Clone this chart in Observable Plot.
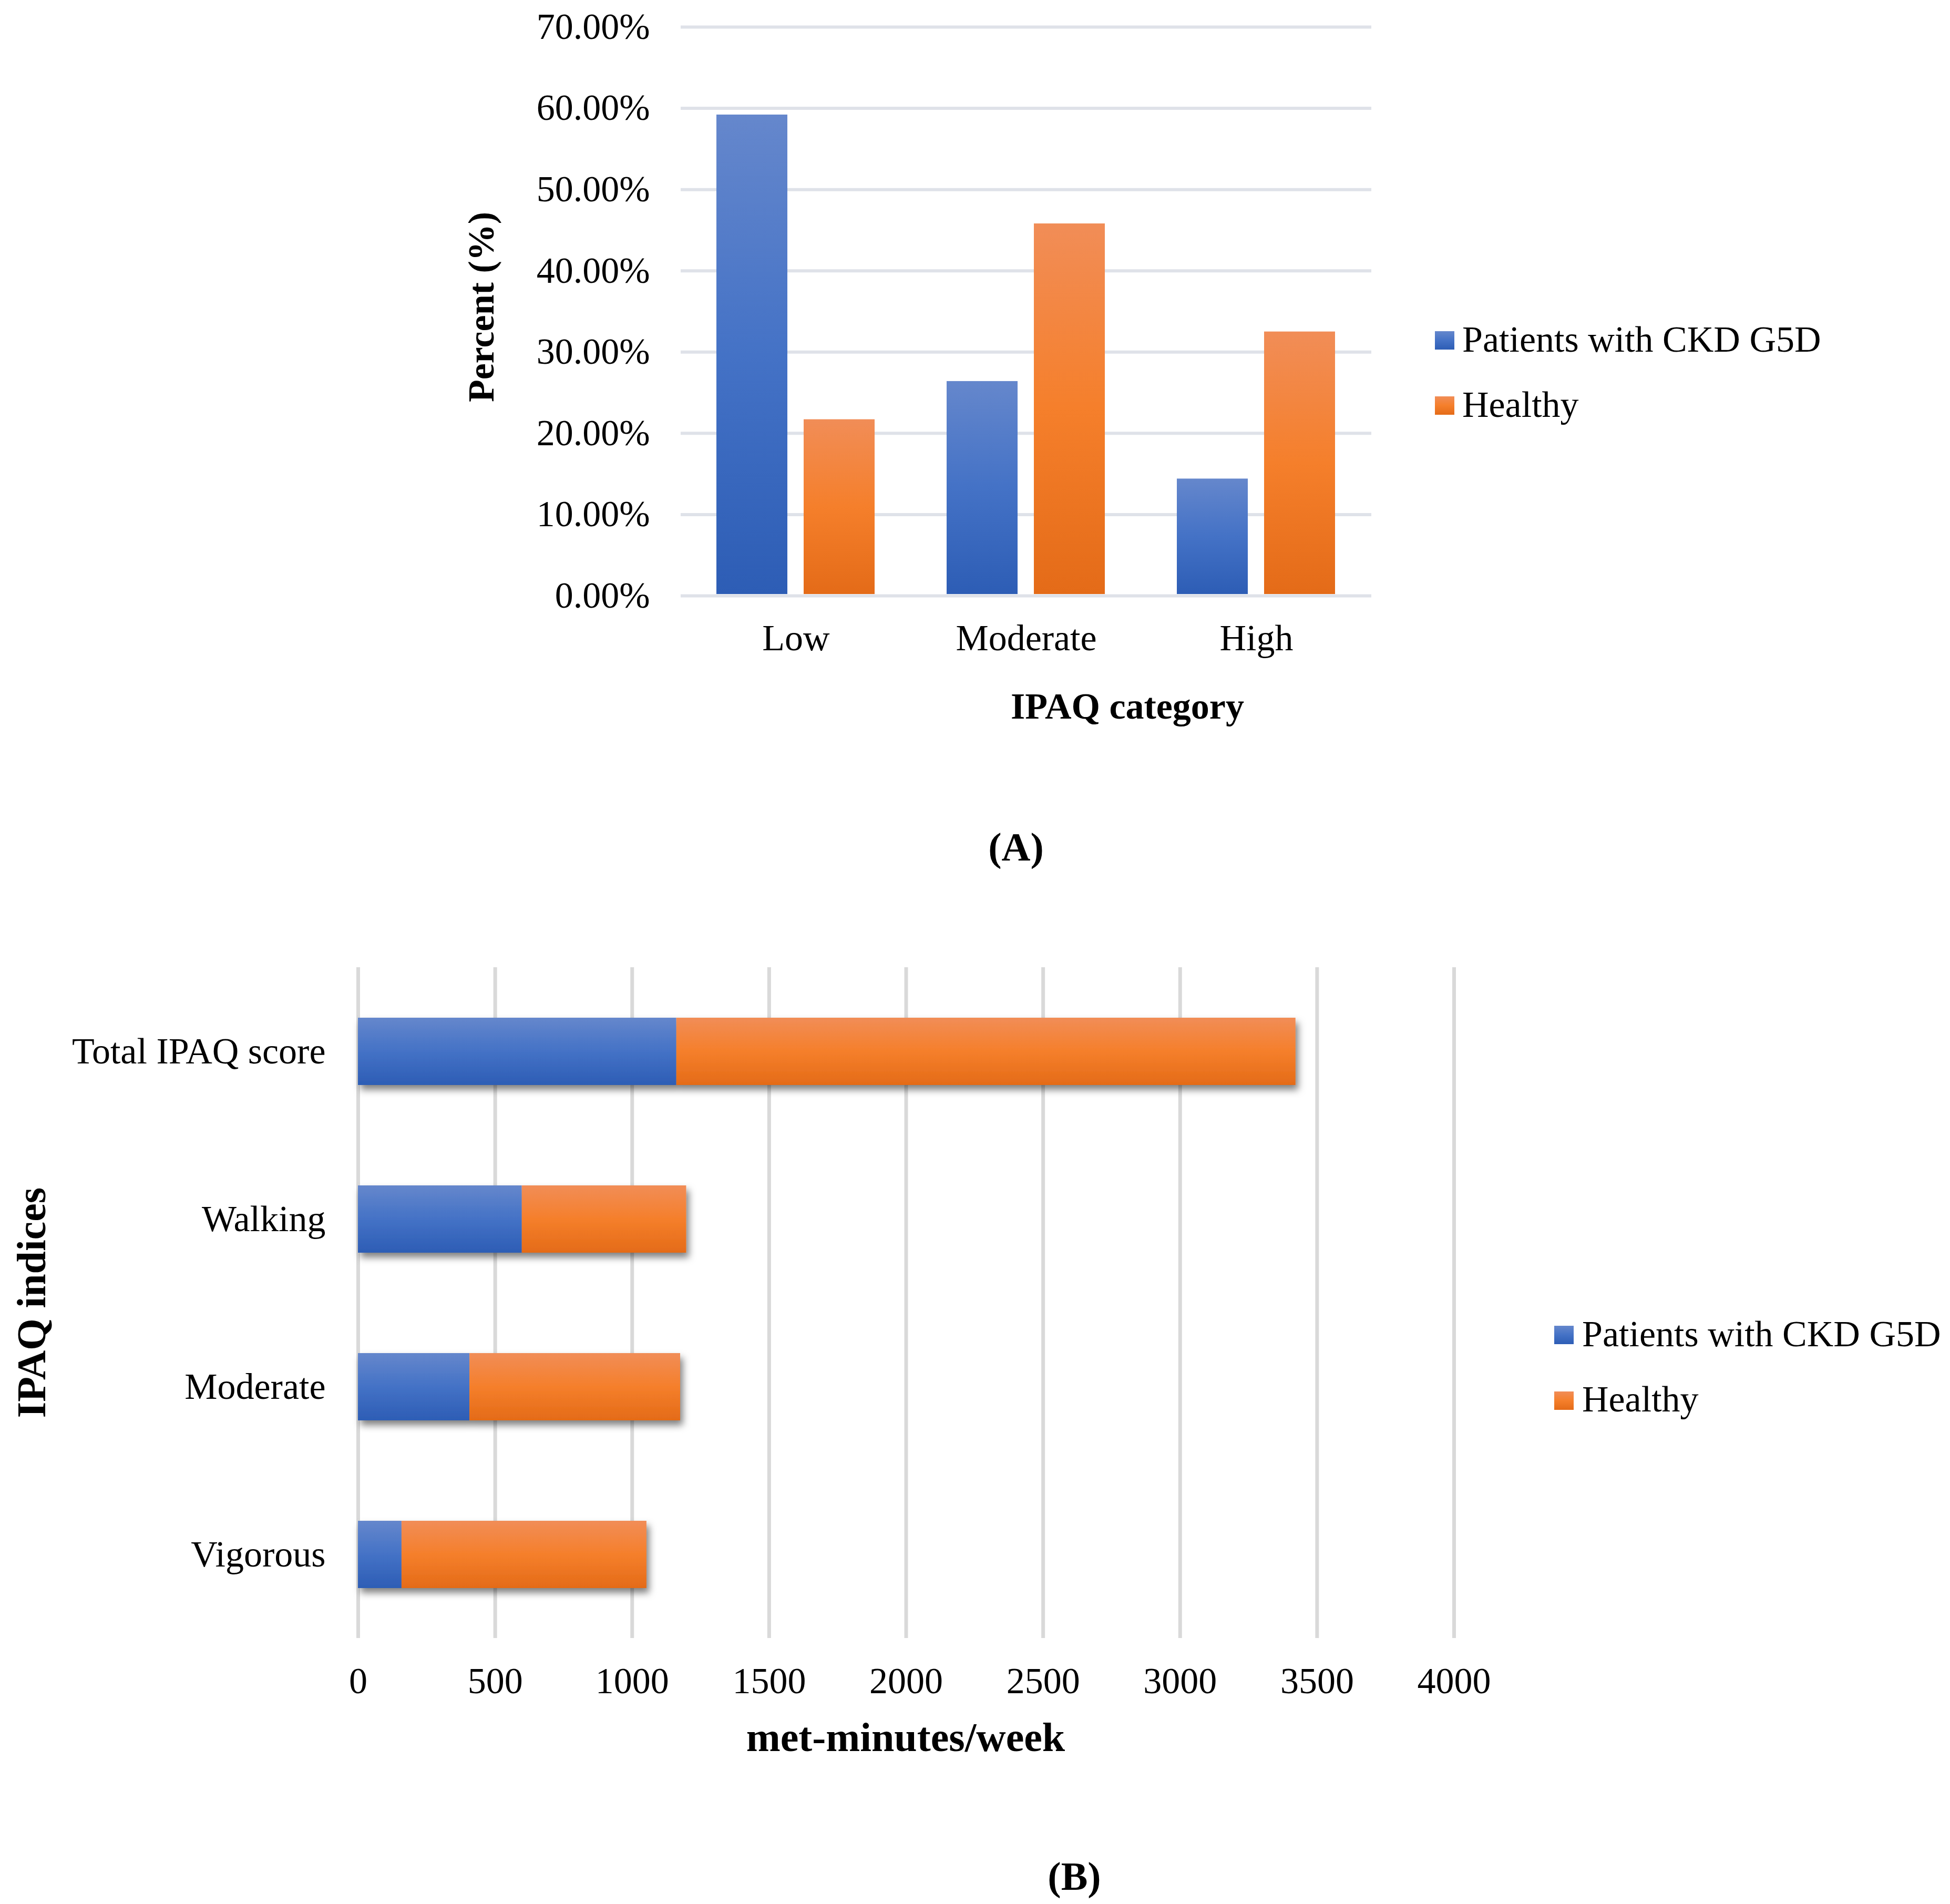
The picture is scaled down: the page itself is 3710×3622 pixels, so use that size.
<!DOCTYPE html>
<html>
<head>
<meta charset="utf-8">
<script src="https://cdn.jsdelivr.net/npm/d3@7"></script>
<script src="https://cdn.jsdelivr.net/npm/@observablehq/plot@0.6"></script>
<style>
html, body { margin: 0; padding: 0; background: #fff; }
#page { position: relative; width: 3710px; height: 3622px; background: #fff; overflow: hidden;
        font-family: 'Liberation Serif', 'Times New Roman', serif; }
#page > svg { position: absolute; left: 0; }
</style>
</head>
<body>
<div id="page"></div>
<script>
// ---------- Data ----------
const categoriesA = ["Low", "Moderate", "High"];
const seriesNames = ["Patients with CKD G5D", "Healthy"];
const ckdPercent = [59.2, 26.4, 14.4];
const healthyPercent = [21.7, 45.8, 32.5];
const yTicksA = [0, 10, 20, 30, 40, 50, 60, 70];

const indicesB = ["Total IPAQ score", "Walking", "Moderate", "Vigorous"];
const ckdMet = [1162, 598, 407, 159];
const healthyMet = [2260, 600, 769, 894];
const xTicksB = [0, 500, 1000, 1500, 2000, 2500, 3000, 3500, 4000];

const dataA = categoriesA.flatMap((c, i) => [
  {category: c, series: seriesNames[0], value: ckdPercent[i]},
  {category: c, series: seriesNames[1], value: healthyPercent[i]}
]);
const dataB = seriesNames.flatMap((s, j) =>
  indicesB.map((k, i) => ({index: k, series: s, value: (j === 0 ? ckdMet : healthyMet)[i]}))
);

const FONT = "'Liberation Serif', 'Times New Roman', serif";
const page = document.getElementById("page");

// ---------- Shared defs (gradients, shadow) ----------
const NS = "http://www.w3.org/2000/svg";
const defsSvg = document.createElementNS(NS, "svg");
defsSvg.setAttribute("width", "0");
defsSvg.setAttribute("height", "0");
defsSvg.style.top = "0";
defsSvg.innerHTML = `
<defs>
  <linearGradient id="gradBlue" x1="0" y1="0" x2="0" y2="1">
    <stop offset="0" stop-color="#6587cc"/>
    <stop offset="0.5" stop-color="#4472c6"/>
    <stop offset="1" stop-color="#2d5db5"/>
  </linearGradient>
  <linearGradient id="gradOrange" x1="0" y1="0" x2="0" y2="1">
    <stop offset="0" stop-color="#f18d57"/>
    <stop offset="0.5" stop-color="#f57f2b"/>
    <stop offset="1" stop-color="#e46b18"/>
  </linearGradient>
  <filter id="barShadow" x="-20%" y="-40%" width="140%" height="200%">
    <feDropShadow dx="5" dy="9" stdDeviation="7" flood-color="#000" flood-opacity="0.5"/>
  </filter>
</defs>`;
page.appendChild(defsSvg);

const colorScale = {domain: seriesNames, range: ["url(#gradBlue)", "url(#gradOrange)"]};
const baseStyle = {fontFamily: FONT, fontSize: "70px", color: "#000", background: "transparent", overflow: "visible"};

// ---------- Chart A ----------
const chartA = Plot.plot({
  width: 3710,
  height: 1300,
  marginTop: 51,
  marginBottom: 167,
  marginLeft: 1294,
  marginRight: 1100,
  style: baseStyle,
  fx: {domain: categoriesA, padding: 0, axis: null, label: null},
  x: {domain: seriesNames, paddingInner: 0.186, paddingOuter: 0.407, axis: null},
  y: {domain: [0, 70], axis: null},
  color: colorScale,
  marks: [
    Plot.gridY(yTicksA, {stroke: "#dfe2e9", strokeWidth: 6, strokeOpacity: 1}),
    Plot.barY(dataA, {fx: "category", x: "series", y: "value", fill: "series", insetBottom: 3}),
    Plot.axisY(yTicksA, {anchor: "left", tickSize: 0, tickPadding: 59, tickFormat: d => d.toFixed(2) + "%", label: null, fill: "#000"}),
    Plot.axisFx({anchor: "bottom", tickSize: 0, tickPadding: 54, label: null, fill: "#000"})
  ]
});
chartA.style.top = "0px";
page.appendChild(chartA);

// ---------- Chart B ----------
const chartB = Plot.plot({
  width: 3710,
  height: 1550,
  marginTop: 90,
  marginBottom: 184,
  marginLeft: 681,
  marginRight: 944,
  style: baseStyle,
  x: {domain: [0, 4000], axis: null},
  y: {domain: indicesB, paddingInner: 0.6, paddingOuter: 0.3, axis: null},
  color: colorScale,
  marks: [
    Plot.gridX(xTicksB, {stroke: "#d9d9d9", strokeWidth: 7, strokeOpacity: 1}),
    Plot.barX(dataB, Plot.stackX({x: "value", y: "index", fill: "series"})),
    Plot.axisX(xTicksB, {anchor: "bottom", tickSize: 0, tickPadding: 55, tickFormat: d => String(d), label: null, fill: "#000"}),
    Plot.axisY({anchor: "left", tickSize: 0, tickPadding: 62, label: null, fill: "#000"})
  ]
});
chartB.style.top = "1750px";
const barGroup = chartB.querySelector('g[aria-label="bar"]');
if (barGroup) barGroup.setAttribute("filter", "url(#barShadow)");
page.appendChild(chartB);

// ---------- Titles, panel labels and legends ----------
const overlay = document.createElementNS(NS, "svg");
overlay.setAttribute("width", "3710");
overlay.setAttribute("height", "3622");
overlay.style.top = "0";
overlay.style.pointerEvents = "none";
overlay.setAttribute("font-family", FONT);
overlay.setAttribute("fill", "#000");

function addText(txt, x, y, size, bold, anchor, rotate) {
  const t = document.createElementNS(NS, "text");
  t.setAttribute("x", x);
  t.setAttribute("y", y);
  t.setAttribute("font-size", size);
  if (bold) t.setAttribute("font-weight", "bold");
  t.setAttribute("text-anchor", anchor || "start");
  if (rotate) t.setAttribute("transform", `rotate(${rotate} ${x} ${y})`);
  t.textContent = txt;
  overlay.appendChild(t);
}
function addSwatch(x, y, fill) {
  const r = document.createElementNS(NS, "rect");
  r.setAttribute("x", x);
  r.setAttribute("y", y);
  r.setAttribute("width", 37);
  r.setAttribute("height", 35);
  r.setAttribute("fill", fill);
  overlay.appendChild(r);
}

// Panel A
addText("Percent (%)", 939, 584, 70, true, "middle", -90);
addText("IPAQ category", 2145, 1367, 70, true, "middle");
addText("(A)", 1933, 1637, 76, true, "middle");
addSwatch(2730, 630, colorScale.range[0]);
addText(seriesNames[0], 2782, 669, 70, false, "start");
addSwatch(2730, 754, colorScale.range[1]);
addText(seriesNames[1], 2782, 793, 70, false, "start");

// Panel B
addText("IPAQ indices", 86, 2478, 78, true, "middle", -90);
addText("met-minutes/week", 1723, 3331, 78, true, "middle");
addText("(B)", 2044, 3595, 76, true, "middle");
addSwatch(2957, 2522, colorScale.range[0]);
addText(seriesNames[0], 3010, 2561, 70, false, "start");
addSwatch(2957, 2647, colorScale.range[1]);
addText(seriesNames[1], 3010, 2685, 70, false, "start");

page.appendChild(overlay);
</script>
</body>
</html>
